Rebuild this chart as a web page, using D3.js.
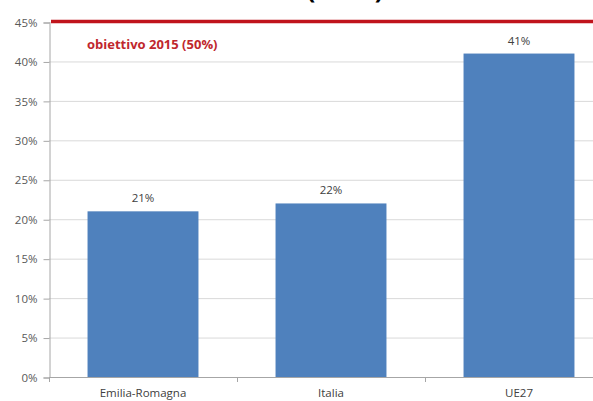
<!DOCTYPE html>
<html><head><meta charset="utf-8">
<script src="https://cdn.jsdelivr.net/npm/d3@7"></script>
<style>body{margin:0;background:#fff}svg{display:block}text{font-family:"Open Sans",sans-serif}</style>
</head><body><svg width="593" height="401"></svg>
<script>
const categories = ["Emilia-Romagna", "Italia", "UE27"];
const values = [21, 22, 41];
const valueLabels = ["21%", "22%", "41%"];
const yTicks = [0, 5, 10, 15, 20, 25, 30, 35, 40, 45];
const targetValue = 45;
const targetLabel = "obiettivo 2015 (50%)";
const title = "(2010)";

const svg = d3.select("svg");
const x = d3.scaleBand().domain(categories).range([49, 613]).paddingInner(0.41).paddingOuter(0.205);
const y = d3.scaleLinear().domain([0, 45]).range([377, 22]);

// title (cropped at top, as in the reference)
svg.append("text").attr("x", 345).attr("y", -2.5).attr("text-anchor", "middle")
  .attr("font-size", 26).attr("font-weight", "bold").attr("fill", "#000").text(title);

// gridlines
svg.append("g").selectAll("line").data(yTicks.filter(d => d > 0)).join("line")
  .attr("x1", 49).attr("x2", 593).attr("y1", d => y(d) + 0.5).attr("y2", d => y(d) + 0.5)
  .attr("stroke", "#d9d9d9").attr("stroke-width", 1);

// y axis
const ya = svg.append("g").attr("transform", "translate(49.5,0.5)")
  .call(d3.axisLeft(y).tickValues(yTicks).tickFormat(d => d + "%").tickSize(6).tickPadding(6));
ya.select(".domain").attr("stroke", "#a6a6a6");
ya.selectAll(".tick line").attr("stroke", "#a6a6a6");
ya.selectAll(".tick text").attr("font-size", 11.5).attr("fill", "#595959").attr("font-family", "Open Sans, sans-serif");

// bars
svg.append("g").selectAll("rect").data(values).join("rect")
  .attr("x", (d, i) => x(categories[i])).attr("width", x.bandwidth())
  .attr("y", d => y(d)).attr("height", d => y(0) - y(d)).attr("fill", "#4f81bd");

// x axis line and boundary ticks
svg.append("line").attr("x1", 49).attr("x2", 593).attr("y1", y(0) + 0.5).attr("y2", y(0) + 0.5)
  .attr("stroke", "#a6a6a6");
svg.append("g").selectAll("line").data(categories).join("line")
  .attr("x1", c => x(c) + x.bandwidth() / 2 - x.step() / 2 + 0.5)
  .attr("x2", c => x(c) + x.bandwidth() / 2 - x.step() / 2 + 0.5)
  .attr("y1", y(0)).attr("y2", y(0) + 5).attr("stroke", "#a6a6a6");

// category labels
svg.append("g").selectAll("text").data(categories).join("text")
  .attr("x", c => x(c) + x.bandwidth() / 2).attr("y", 397).attr("text-anchor", "middle")
  .attr("font-size", 11.5).attr("fill", "#404040").text(c => c);

// value labels
svg.append("g").selectAll("text").data(values).join("text")
  .attr("x", (d, i) => x(categories[i]) + x.bandwidth() / 2).attr("y", d => y(d) - 9)
  .attr("text-anchor", "middle").attr("font-size", 11.5).attr("fill", "#404040")
  .text((d, i) => valueLabels[i]);

// target line
svg.append("line").attr("x1", 51).attr("x2", 593).attr("y1", y(targetValue) - 0.5).attr("y2", y(targetValue) - 0.5)
  .attr("stroke", "#c0141c").attr("stroke-width", 3.5);
svg.append("text").attr("x", 87).attr("y", 49).attr("font-size", 13).attr("font-weight", "bold")
  .attr("fill", "#c0272d").text(targetLabel);
</script>
</body></html>
